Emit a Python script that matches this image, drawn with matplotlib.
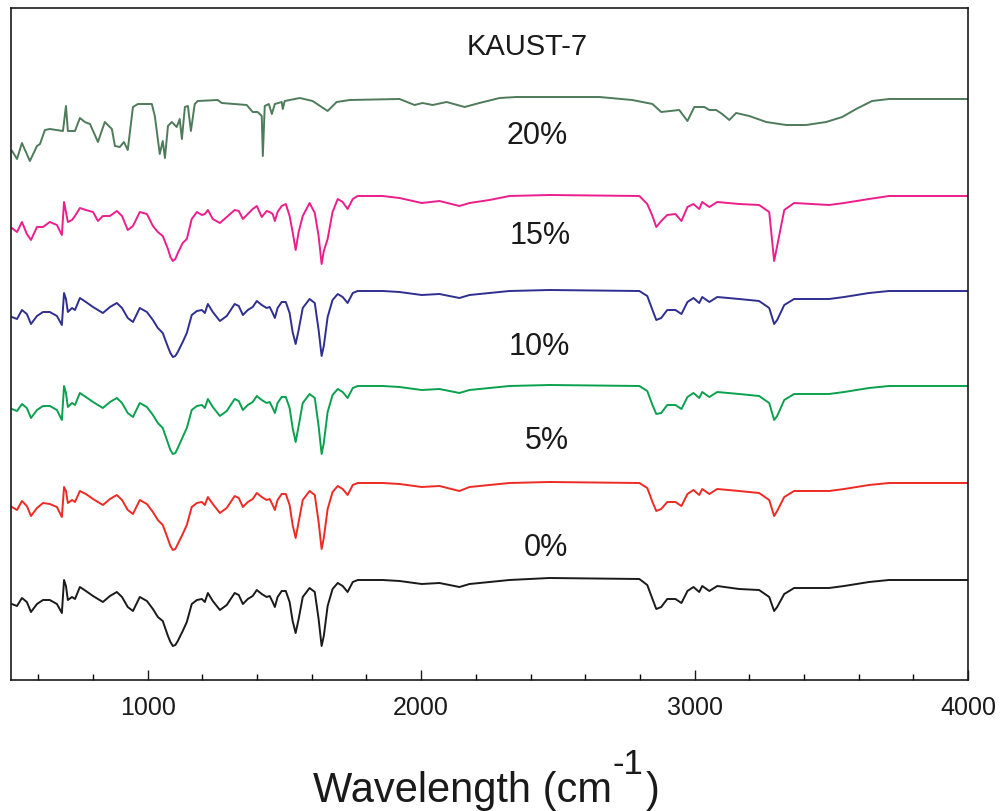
import matplotlib
matplotlib.use("Agg")
import matplotlib.pyplot as plt
from matplotlib.ticker import MultipleLocator

plt.rcParams['font.family'] = ['Liberation Sans', 'DejaVu Sans']

# ---------------- data ----------------
# shared wavenumber grid for the 0-20 % spectra (cm-1)
wn_mof = [503, 522, 540, 558, 573, 595, 617, 642, 668, 686,
          694, 701, 708, 723, 734, 752, 774, 800, 818, 836,
          862, 887, 906, 927, 946, 971, 997, 1019, 1037, 1055,
          1074, 1083, 1092, 1101, 1110, 1128, 1143, 1161, 1180, 1198, 1209, 1220,
          1238, 1264, 1289, 1318, 1333, 1348, 1366, 1384, 1399, 1417,
          1435, 1446, 1457, 1465, 1475, 1490, 1505, 1519, 1530, 1541,
          1552, 1567, 1592, 1611, 1625, 1636, 1644, 1658, 1676, 1695,
          1713, 1731, 1750, 1768, 1812, 1859, 1921, 2002, 2067, 2140,
          2177, 2250, 2323, 2469, 2798, 2827, 2846, 2860, 2878, 2900,
          2930, 2952, 2974, 2996, 3017, 3028, 3054, 3083, 3163, 3236,
          3273, 3291, 3302, 3328, 3364, 3492, 3547, 3638, 3711, 3858, 4000]

# transmittance relative to each trace's own baseline (arb. units)
t_0 = [-24, -26, -18, -22, -32, -24, -20, -20, -24, -33,
       0, -6, -20, -17, -19, -7, -11, -16, -19, -22,
       -16, -12, -17, -27, -31, -17, -21, -29, -37, -41,
       -56, -62, -66, -65, -61, -51, -42, -24, -20, -19, -22, -13,
       -21, -30, -25, -13, -15, -24, -19, -16, -10, -14,
       -17, -16, -22, -27, -17, -11, -11, -22, -41, -53,
       -39, -17, -8, -12, -39, -66, -56, -26, -9, -3,
       -6, -12, -2, 0, 0, 0, -1, -4, -3, -7,
       -4, -2, 0, 2, 1, -5, -19, -29, -27, -19,
       -19, -23, -11, -7, -12, -6, -11, -6, -9, -10,
       -17, -31, -27, -14, -8, -8, -6, -2, 0, 0, 0]

t_5 = [-24, -27, -18, -23, -33, -25, -20, -21, -24, -34,
       -4, -8, -20, -17, -19, -8, -11, -16, -19, -22,
       -16, -12, -17, -27, -31, -17, -21, -29, -37, -42,
       -56, -63, -67, -66, -61, -51, -42, -24, -20, -19, -22, -14,
       -21, -30, -25, -13, -15, -24, -19, -16, -10, -14,
       -17, -16, -22, -27, -17, -11, -11, -22, -42, -55,
       -39, -17, -8, -12, -39, -66, -55, -26, -9, -3,
       -6, -12, -2, 0, 0, 0, -1, -4, -3, -8,
       -4, -2, 0, 1, 0, -5, -19, -28, -26, -19,
       -19, -23, -11, -7, -12, -6, -11, -6, -8, -10,
       -17, -33, -28, -14, -8, -8, -6, -2, 0, 0, 0]

t_10 = [-23, -25, -18, -22, -32, -24, -20, -20, -24, -34,
        0, -7, -21, -17, -19, -7, -11, -16, -19, -22,
        -16, -12, -17, -27, -31, -17, -21, -29, -37, -42,
        -57, -64, -68, -67, -62, -51, -42, -24, -20, -19, -22, -13,
        -21, -30, -25, -13, -15, -24, -19, -16, -10, -14,
        -17, -16, -22, -27, -17, -11, -11, -22, -42, -56,
        -40, -17, -8, -12, -40, -68, -57, -26, -9, -3,
        -6, -12, -2, 0, 0, 0, -1, -4, -3, -7,
        -4, -2, 0, 1, 0, -5, -19, -28, -27, -19,
        -19, -23, -11, -7, -12, -6, -11, -6, -8, -10,
        -17, -34, -30, -14, -8, -8, -6, -2, 0, 0, 0]

t_15 = [-26, -28, -19, -23, -33, -25, -21, -21, -25, -34,
        -2, -8, -21, -17, -19, -7, -11, -16, -19, -22,
        -16, -12, -17, -27, -31, -17, -21, -29, -37, -42,
        -56, -62, -66, -65, -61, -51, -42, -24, -20, -19, -22, -13,
        -21, -30, -25, -13, -15, -24, -19, -16, -10, -14,
        -17, -16, -22, -27, -17, -11, -11, -22, -41, -53,
        -39, -17, -8, -12, -39, -65, -55, -26, -9, -3,
        -6, -12, -2, 0, 0, 0, -1, -4, -3, -7,
        -4, -2, 0, 1, 0, -5, -19, -29, -27, -19,
        -19, -23, -11, -7, -12, -6, -11, -6, -8, -10,
        -17, -33, -29, -14, -8, -8, -6, -2, 0, 0, 0]

t_20 = [-32, -36, -26, -38, -44, -31, -31, -26, -29, -39,
        -6, -16, -26, -24, -20, -12, -14, -16, -25, -20,
        -20, -15, -20, -34, -30, -16, -18, -30, -36, -40,
        -53, -61, -65, -63, -57, -47, -43, -23, -16, -19, -18, -14,
        -23, -27, -21, -14, -15, -23, -18, -13, -10, -21,
        -15, -16, -18, -25, -16, -10, -8, -20, -36, -54,
        -36, -20, -7, -17, -40, -68, -55, -43, -16, -3,
        -6, -13, -3, 0, 0, 0, -2, -7, -5, -10,
        -7, -4, 0, 1, 0, -8, -20, -31, -25, -19,
        -18, -25, -11, -8, -13, -6, -11, -6, -8, -9,
        -16, -65, -50, -14, -7, -9, -7, -3, 0, 0, 0]

# pure KAUST-7 trace
wn_k7 = [504, 522, 540, 569, 595, 606, 624, 642, 690, 701,
         708, 734, 752, 770, 789, 818, 843, 869, 880, 898,
         913, 927, 946, 964, 1015, 1026, 1044, 1055, 1063, 1074,
         1088, 1106, 1117, 1125, 1136, 1147, 1158, 1172, 1183, 1256,
         1271, 1362, 1384, 1402, 1417, 1421, 1428, 1443, 1454, 1465,
         1490, 1494, 1501, 1556, 1603, 1658, 1691, 1739, 1921, 1976,
         2005, 2042, 2093, 2159, 2213, 2287, 2349, 2652, 2772, 2846,
         2878, 2944, 2974, 2999, 3036, 3054, 3079, 3101, 3127, 3152,
         3200, 3262, 3335, 3408, 3481, 3540, 3591, 3649, 3711, 4000]
t_k7 = [-52, -60, -44, -62, -47, -45, -31, -30, -32, -7,
        -32, -32, -19, -23, -25, -43, -23, -30, -47, -48,
        -43, -51, -8, -5, -5, -17, -55, -42, -59, -27,
        -23, -28, -20, -40, -8, -7, -32, -5, -2, -1,
        -4, -6, -13, -13, -17, -57, -7, -5, -15, -5,
        -3, -10, -2, 1, -2, -12, -3, -1, 0, -6,
        -4, -6, -3, -8, -4, 1, 2, 2, -1, -5,
        -13, -11, -22, -8, -8, -11, -11, -15, -21, -14,
        -17, -23, -26, -26, -23, -18, -10, -2, 0, 0]

labels = ["0%", "5%", "10%", "15%", "20%"]
title_label = "KAUST-7"
xticks = [1000, 2000, 3000, 4000]

# ---------------- layout / style ----------------
colors = ['#1a1a1a', '#ee2a24', '#0aa14e', '#2e2f8f', '#ec1e8c', '#4e7b5a']
offsets = [100, 197, 294, 389, 484, 581]          # vertical stacking
label_pos = [(546, 548), (547, 441), (539, 347), (540, 236), (537, 136)]  # px

W, H = 1000, 812
fig = plt.figure(figsize=(10, 8.12), dpi=100)
ax = fig.add_axes([0.011, (H - 681) / H, 0.957, (681 - 9) / H])

series = [t_0, t_5, t_10, t_15, t_20]
for vals, c, off in zip(series, colors[:5], offsets[:5]):
    ax.plot(wn_mof, [v + off for v in vals], color=c, lw=1.4,
            solid_joinstyle='round')
ax.plot(wn_k7, [v + offsets[5] for v in t_k7], color=colors[5], lw=1.4,
        solid_joinstyle='round')

ax.set_xlim(500, 4000)
ax.set_ylim(0, 672)
ax.set_yticks([])
ax.set_xticks(xticks)
ax.set_xticklabels([str(t) for t in xticks])
ax.xaxis.set_minor_locator(MultipleLocator(200))
ax.tick_params(axis='x', which='major', direction='in', length=7.5, width=1.0,
               labelsize=18, pad=11, colors='#1a1a1a')
ax.tick_params(axis='x', which='minor', direction='in', length=4.5, width=1.0)
for s in ax.spines.values():
    s.set_linewidth(1.2)
    s.set_color('#1a1a1a')

# x-axis title with a short-hyphen superscript, composed from three texts
r = fig.canvas.get_renderer()
base_y = 1 - 802 / H
t1 = fig.text(313 / W, base_y, "Wavelength (cm", fontsize=30, ha='left',
              va='baseline', color='#1a1a1a')
bb1 = t1.get_window_extent(r)
t2 = fig.text((bb1.x1 + 1) / W, base_y + 28 / H, "-1", fontsize=25, ha='left',
              va='baseline', color='#1a1a1a')
bb2 = t2.get_window_extent(r)
fig.text((bb2.x1 + 2) / W, base_y, ")", fontsize=30, ha='left',
         va='baseline', color='#1a1a1a')

fig.text(0.527, 1 - 47 / H, title_label, fontsize=21, ha='center', va='center',
         color='#1a1a1a')
for lab, (px, py) in zip(labels, label_pos):
    fig.text(px / W, 1 - py / H, lab, fontsize=22, ha='center', va='center',
             color='#1a1a1a')

fig.savefig("out.png", dpi=100)
